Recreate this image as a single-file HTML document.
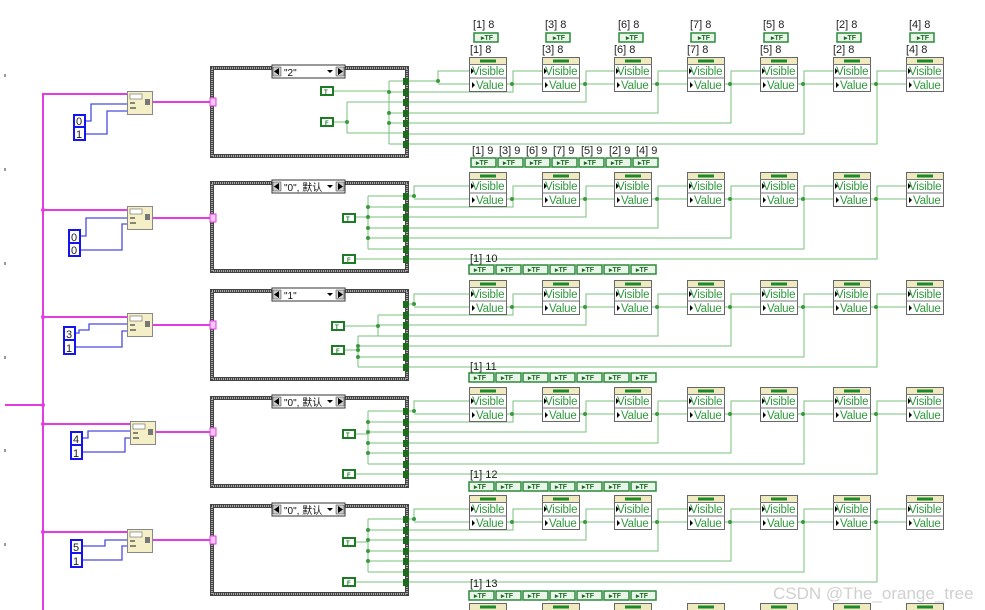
<!DOCTYPE html><html><head><meta charset="utf-8"><style>body{margin:0;background:#fff}svg{display:block}text{font-family:"Liberation Sans","Noto Sans CJK SC",sans-serif}</style></head><body>
<svg width="985" height="610" viewBox="0 0 985 610" xmlns="http://www.w3.org/2000/svg">
<defs>
<symbol id="n" overflow="visible"><rect x="0.5" y="0.5" width="37" height="34" fill="#fff" stroke="#666"/><rect x="1" y="1" width="36" height="6" fill="#efe9bf"/><rect x="11" y="2.5" width="16" height="3" fill="#1a8a2a"/><path d="M0 7.5H38M0 21H38" stroke="#777"/><path d="M2 11l3 3-3 3zM3 25l3 3-3 3z" fill="#000"/></symbol>
<symbol id="cs" overflow="visible"><rect x="2" y="2" width="195" height="88" fill="#fff" stroke="#444" stroke-width="4"/><rect x="2" y="2" width="195" height="88" fill="none" stroke="#aaa" stroke-width="2" stroke-dasharray="1 1"/><rect x="62" y="-1" width="73" height="13" fill="#fff" stroke="#333"/><path d="M63 1h8v9h-8zM126 1h8v9h-8z" fill="#ccc" stroke="#333" stroke-width=".5"/><path d="M69 2v7l-5-3.5zM128 2v7l5-3.5zM117 4h6l-3 3z" fill="#000"/></symbol>
<symbol id="tun" overflow="visible"><rect x="0" y="0" width="6" height="7" fill="#1d6b1d"/></symbol>
<symbol id="fn" overflow="visible"><rect x="0.5" y="0.5" width="25" height="23" fill="#f4efc6" stroke="#888"/><rect x="3" y="3" width="12" height="5" fill="#fff" stroke="#666" stroke-width=".6"/><rect x="18" y="8" width="5" height="6" fill="#777"/><path d="M3 12h5M3 17h6" stroke="#444" stroke-width="1.2"/></symbol>
</defs>
<g fill="#999"><rect x="4" y="74" width="2" height="3"/><rect x="4" y="168" width="2" height="3"/><rect x="4" y="262" width="2" height="3"/><rect x="4" y="356" width="2" height="3"/><rect x="4" y="449" width="2" height="3"/><rect x="4" y="543" width="2" height="3"/></g>
<g stroke="#e23ce2" stroke-width="2" fill="none"><path d="M43 93V610M43 94H127M43 210H127M43 317H127M5 405H43M43 424H130M43 532H127M152 102H212M152 218H212M152 325H212M155 432H212M152 540H212"/></g>
<g fill="#e23ce2"><circle cx="43" cy="210" r="2"/><circle cx="43" cy="317" r="2"/><circle cx="43" cy="405" r="2"/><circle cx="43" cy="424" r="2"/><circle cx="43" cy="532" r="2"/></g>
<use href="#fn" x="127" y="91"/><use href="#fn" x="127" y="206"/><use href="#fn" x="127" y="313"/><use href="#fn" x="130" y="421"/><use href="#fn" x="127" y="529"/>
<g stroke="#4a4ae0" stroke-width="1.3" fill="none"><path d="M85 121H91V104H127M85 134H107V111H127M80 236H86V218H127M80 250H122V224H127M75 333H79V330H89V324H127M75 347H122V331H127M82 438H88V431H130M82 452H125V438H130M82 546H105V540H127M82 560H122V546H127"/></g>
<g stroke="#1414f0" stroke-width="2" fill="#fff"><rect x="74" y="115" width="11" height="12"/><rect x="74" y="127" width="11" height="13"/><rect x="69" y="230" width="11" height="13"/><rect x="69" y="243" width="11" height="13"/><rect x="64" y="327" width="11" height="13"/><rect x="64" y="340" width="11" height="14"/><rect x="71" y="432" width="11" height="13"/><rect x="71" y="445" width="11" height="14"/><rect x="71" y="540" width="11" height="13"/><rect x="71" y="553" width="11" height="14"/></g>
<g font-size="11" fill="#222"><text x="76" y="125">0</text><text x="76" y="138">1</text><text x="71" y="241">0</text><text x="71" y="254">0</text><text x="66" y="338">3</text><text x="66" y="352">1</text><text x="73" y="443">4</text><text x="73" y="457">1</text><text x="73" y="551">5</text><text x="73" y="565">1</text></g>
<use href="#cs" x="210" y="66"/><use href="#cs" x="210" y="181"/><use href="#cs" x="210" y="289"/><use href="#cs" x="210" y="396"/><use href="#cs" x="210" y="504"/>
<g font-size="10" fill="#111"><text x="284" y="76">"2"</text><text x="284" y="191">"0", 默认</text><text x="284" y="299">"1"</text><text x="284" y="406">"0", 默认</text><text x="284" y="514">"0", 默认</text></g>
<g fill="#f6c6f6" stroke="#e23ce2"><rect x="210" y="98" width="6" height="8"/><rect x="210" y="214" width="6" height="8"/><rect x="210" y="321" width="6" height="8"/><rect x="210" y="428" width="6" height="8"/><rect x="210" y="536" width="6" height="8"/></g>
<g stroke="#78c27b" stroke-width="1" fill="none">
<path d="M333 91H389M389 81V144M389 81H403M389 92H403M389 113H403M389 123H403M389 144H403M333 122H347M347 102V133M347 102H403M347 133H403"/>
<path d="M355 217H368M368 196V249M368 196H403M368 207H403M368 217H403M368 228H403M368 238H403M368 249H403M355 259H403"/>
<path d="M344 326H378M378 315V336M378 315H403M378 325H403M358 336H403M344 350H358M358 336V367M358 346H403M358 357H403M358 367H403"/>
<path d="M355 434H368M368 411V464M368 411H403M368 422H403M368 432H403M368 443H403M368 453H403M368 464H403M355 474H403"/>
<path d="M355 542H368M368 519V572M368 519H403M368 530H403M368 540H403M368 551H403M368 561H403M368 572H403M355 582H403"/>
<path d="M409 81H438V71H469M438 84H469M409 92H513V71H542M409 102H586V71H614M409 113H658V71H687M409 123H731V71H760M409 134H804V71H833M409 144H877V71H906M506 84H542M579 84H614M651 84H687M724 84H760M797 84H833M870 84H906"/>
<path d="M409 196H414V186H469M414 199H469M409 207H513V186H542M409 217H586V186H614M409 228H658V186H687M409 238H731V186H760M409 249H804V186H833M409 259H877V186H906M506 199H542M579 199H614M651 199H687M724 199H760M797 199H833M870 199H906"/>
<path d="M409 304H414V294H469M414 307H469M409 315H513V294H542M409 325H586V294H614M409 336H658V294H687M409 346H731V294H760M409 357H804V294H833M409 367H877V294H906M506 307H542M579 307H614M651 307H687M724 307H760M797 307H833M870 307H906"/>
<path d="M409 411H414V401H469M414 414H469M409 422H513V401H542M409 432H586V401H614M409 443H658V401H687M409 453H731V401H760M409 464H804V401H833M409 474H877V401H906M506 414H542M579 414H614M651 414H687M724 414H760M797 414H833M870 414H906"/>
<path d="M409 519H414V509H469M414 522H469M409 530H513V509H542M409 540H586V509H614M409 551H658V509H687M409 561H731V509H760M409 572H804V509H833M409 582H877V509H906M506 522H542M579 522H614M651 522H687M724 522H760M797 522H833M870 522H906"/>
</g>
<g fill="#3a9a3e"><circle cx="389" cy="92" r="2"/><circle cx="389" cy="113" r="2"/><circle cx="389" cy="123" r="2"/><circle cx="347" cy="122" r="2"/><circle cx="438" cy="81" r="2"/>
<circle cx="368" cy="207" r="2"/><circle cx="368" cy="217" r="2"/><circle cx="368" cy="228" r="2"/><circle cx="368" cy="238" r="2"/><circle cx="414" cy="196" r="2"/>
<circle cx="378" cy="326" r="2"/><circle cx="358" cy="346" r="2"/><circle cx="358" cy="350" r="2"/><circle cx="358" cy="357" r="2"/><circle cx="414" cy="304" r="2"/>
<circle cx="368" cy="422" r="2"/><circle cx="368" cy="432" r="2"/><circle cx="368" cy="443" r="2"/><circle cx="368" cy="453" r="2"/><circle cx="414" cy="411" r="2"/>
<circle cx="368" cy="530" r="2"/><circle cx="368" cy="540" r="2"/><circle cx="368" cy="551" r="2"/><circle cx="368" cy="561" r="2"/><circle cx="414" cy="519" r="2"/>
<circle cx="512" cy="84" r="2"/><circle cx="585" cy="84" r="2"/><circle cx="657" cy="84" r="2"/><circle cx="730" cy="84" r="2"/><circle cx="803" cy="84" r="2"/><circle cx="876" cy="84" r="2"/>
<circle cx="512" cy="199" r="2"/><circle cx="585" cy="199" r="2"/><circle cx="657" cy="199" r="2"/><circle cx="730" cy="199" r="2"/><circle cx="803" cy="199" r="2"/><circle cx="876" cy="199" r="2"/>
<circle cx="512" cy="307" r="2"/><circle cx="585" cy="307" r="2"/><circle cx="657" cy="307" r="2"/><circle cx="730" cy="307" r="2"/><circle cx="803" cy="307" r="2"/><circle cx="876" cy="307" r="2"/>
<circle cx="512" cy="414" r="2"/><circle cx="585" cy="414" r="2"/><circle cx="657" cy="414" r="2"/><circle cx="730" cy="414" r="2"/><circle cx="803" cy="414" r="2"/><circle cx="876" cy="414" r="2"/>
<circle cx="512" cy="522" r="2"/><circle cx="585" cy="522" r="2"/><circle cx="657" cy="522" r="2"/><circle cx="730" cy="522" r="2"/><circle cx="803" cy="522" r="2"/><circle cx="876" cy="522" r="2"/></g>
<g fill="#fff" stroke="#1d7a25" stroke-width="2"><rect x="321" y="87" width="12" height="8"/><rect x="321" y="118" width="12" height="8"/><rect x="343" y="214" width="12" height="8"/><rect x="343" y="255" width="12" height="8"/><rect x="332" y="322" width="12" height="8"/><rect x="332" y="346" width="12" height="8"/><rect x="343" y="430" width="12" height="8"/><rect x="343" y="470" width="12" height="8"/><rect x="343" y="538" width="12" height="8"/><rect x="343" y="578" width="12" height="8"/></g>
<g font-size="6" font-weight="bold" fill="#1d7a25"><text x="324" y="94">T</text><text x="325" y="125">F</text><text x="346" y="221">T</text><text x="347" y="262">F</text><text x="335" y="329">T</text><text x="336" y="353">F</text><text x="346" y="437">T</text><text x="347" y="477">F</text><text x="346" y="545">T</text><text x="347" y="585">F</text></g>
<g><use href="#tun" x="403" y="78"/><use href="#tun" x="403" y="89"/><use href="#tun" x="403" y="99"/><use href="#tun" x="403" y="110"/><use href="#tun" x="403" y="120"/><use href="#tun" x="403" y="131"/><use href="#tun" x="403" y="141"/>
<use href="#tun" x="403" y="193"/><use href="#tun" x="403" y="204"/><use href="#tun" x="403" y="214"/><use href="#tun" x="403" y="225"/><use href="#tun" x="403" y="235"/><use href="#tun" x="403" y="246"/><use href="#tun" x="403" y="256"/>
<use href="#tun" x="403" y="301"/><use href="#tun" x="403" y="312"/><use href="#tun" x="403" y="322"/><use href="#tun" x="403" y="333"/><use href="#tun" x="403" y="343"/><use href="#tun" x="403" y="354"/><use href="#tun" x="403" y="364"/>
<use href="#tun" x="403" y="408"/><use href="#tun" x="403" y="419"/><use href="#tun" x="403" y="429"/><use href="#tun" x="403" y="440"/><use href="#tun" x="403" y="450"/><use href="#tun" x="403" y="461"/><use href="#tun" x="403" y="471"/>
<use href="#tun" x="403" y="516"/><use href="#tun" x="403" y="527"/><use href="#tun" x="403" y="537"/><use href="#tun" x="403" y="548"/><use href="#tun" x="403" y="558"/><use href="#tun" x="403" y="569"/><use href="#tun" x="403" y="579"/></g>
<g>
<use href="#n" x="469" y="57"/><use href="#n" x="542" y="57"/><use href="#n" x="614" y="57"/><use href="#n" x="687" y="57"/><use href="#n" x="760" y="57"/><use href="#n" x="833" y="57"/><use href="#n" x="906" y="57"/>
<use href="#n" x="469" y="172"/><use href="#n" x="542" y="172"/><use href="#n" x="614" y="172"/><use href="#n" x="687" y="172"/><use href="#n" x="760" y="172"/><use href="#n" x="833" y="172"/><use href="#n" x="906" y="172"/>
<use href="#n" x="469" y="280"/><use href="#n" x="542" y="280"/><use href="#n" x="614" y="280"/><use href="#n" x="687" y="280"/><use href="#n" x="760" y="280"/><use href="#n" x="833" y="280"/><use href="#n" x="906" y="280"/>
<use href="#n" x="469" y="387"/><use href="#n" x="542" y="387"/><use href="#n" x="614" y="387"/><use href="#n" x="687" y="387"/><use href="#n" x="760" y="387"/><use href="#n" x="833" y="387"/><use href="#n" x="906" y="387"/>
<use href="#n" x="469" y="495"/><use href="#n" x="542" y="495"/><use href="#n" x="614" y="495"/><use href="#n" x="687" y="495"/><use href="#n" x="760" y="495"/><use href="#n" x="833" y="495"/><use href="#n" x="906" y="495"/>
<use href="#n" x="469" y="603"/><use href="#n" x="542" y="603"/><use href="#n" x="614" y="603"/><use href="#n" x="687" y="603"/><use href="#n" x="760" y="603"/><use href="#n" x="833" y="603"/><use href="#n" x="906" y="603"/></g>
<g font-size="11.5" fill="#2f9a3c" letter-spacing="-0.2">
<text x="472" y="75">Visible</text><text x="545" y="75">Visible</text><text x="617" y="75">Visible</text><text x="690" y="75">Visible</text><text x="763" y="75">Visible</text><text x="836" y="75">Visible</text><text x="909" y="75">Visible</text>
<text x="476" y="89">Value</text><text x="549" y="89">Value</text><text x="621" y="89">Value</text><text x="694" y="89">Value</text><text x="767" y="89">Value</text><text x="840" y="89">Value</text><text x="913" y="89">Value</text>
<text x="472" y="190">Visible</text><text x="545" y="190">Visible</text><text x="617" y="190">Visible</text><text x="690" y="190">Visible</text><text x="763" y="190">Visible</text><text x="836" y="190">Visible</text><text x="909" y="190">Visible</text>
<text x="476" y="204">Value</text><text x="549" y="204">Value</text><text x="621" y="204">Value</text><text x="694" y="204">Value</text><text x="767" y="204">Value</text><text x="840" y="204">Value</text><text x="913" y="204">Value</text>
<text x="472" y="298">Visible</text><text x="545" y="298">Visible</text><text x="617" y="298">Visible</text><text x="690" y="298">Visible</text><text x="763" y="298">Visible</text><text x="836" y="298">Visible</text><text x="909" y="298">Visible</text>
<text x="476" y="312">Value</text><text x="549" y="312">Value</text><text x="621" y="312">Value</text><text x="694" y="312">Value</text><text x="767" y="312">Value</text><text x="840" y="312">Value</text><text x="913" y="312">Value</text>
<text x="472" y="405">Visible</text><text x="545" y="405">Visible</text><text x="617" y="405">Visible</text><text x="690" y="405">Visible</text><text x="763" y="405">Visible</text><text x="836" y="405">Visible</text><text x="909" y="405">Visible</text>
<text x="476" y="419">Value</text><text x="549" y="419">Value</text><text x="621" y="419">Value</text><text x="694" y="419">Value</text><text x="767" y="419">Value</text><text x="840" y="419">Value</text><text x="913" y="419">Value</text>
<text x="472" y="513">Visible</text><text x="545" y="513">Visible</text><text x="617" y="513">Visible</text><text x="690" y="513">Visible</text><text x="763" y="513">Visible</text><text x="836" y="513">Visible</text><text x="909" y="513">Visible</text>
<text x="476" y="527">Value</text><text x="549" y="527">Value</text><text x="621" y="527">Value</text><text x="694" y="527">Value</text><text x="767" y="527">Value</text><text x="840" y="527">Value</text><text x="913" y="527">Value</text></g>
<g font-size="11" fill="#222">
<text x="473" y="28">[1] 8</text><text x="545" y="28">[3] 8</text><text x="618" y="28">[6] 8</text><text x="690" y="28">[7] 8</text><text x="763" y="28">[5] 8</text><text x="836" y="28">[2] 8</text><text x="909" y="28">[4] 8</text>
<text x="470" y="53">[1] 8</text><text x="542" y="53">[3] 8</text><text x="614" y="53">[6] 8</text><text x="687" y="53">[7] 8</text><text x="760" y="53">[5] 8</text><text x="833" y="53">[2] 8</text><text x="906" y="53">[4] 8</text>
<text x="472" y="154">[1] 9</text><text x="499" y="154">[3] 9</text><text x="526" y="154">[6] 9</text><text x="553" y="154">[7] 9</text><text x="581" y="154">[5] 9</text><text x="609" y="154">[2] 9</text><text x="636" y="154">[4] 9</text>
<text x="470" y="262">[1] 10</text><text x="470" y="370">[1] 11</text><text x="470" y="478">[1] 12</text><text x="470" y="587">[1] 13</text></g>
<g fill="#e8f5e8" stroke="#2a8a3a" stroke-width="1.5">
<rect x="474" y="33" width="24" height="9"/><rect x="546" y="33" width="24" height="9"/><rect x="619" y="33" width="24" height="9"/><rect x="691" y="33" width="24" height="9"/><rect x="764" y="33" width="24" height="9"/><rect x="837" y="33" width="24" height="9"/><rect x="910" y="33" width="24" height="9"/>
<rect x="471" y="158" width="25" height="9"/><rect x="498" y="158" width="25" height="9"/><rect x="525" y="158" width="25" height="9"/><rect x="552" y="158" width="25" height="9"/><rect x="579" y="158" width="25" height="9"/><rect x="606" y="158" width="25" height="9"/><rect x="633" y="158" width="25" height="9"/>
<rect x="469" y="265" width="25" height="9"/><rect x="496" y="265" width="25" height="9"/><rect x="523" y="265" width="25" height="9"/><rect x="550" y="265" width="25" height="9"/><rect x="577" y="265" width="25" height="9"/><rect x="604" y="265" width="25" height="9"/><rect x="631" y="265" width="25" height="9"/>
<rect x="469" y="373" width="25" height="9"/><rect x="496" y="373" width="25" height="9"/><rect x="523" y="373" width="25" height="9"/><rect x="550" y="373" width="25" height="9"/><rect x="577" y="373" width="25" height="9"/><rect x="604" y="373" width="25" height="9"/><rect x="631" y="373" width="25" height="9"/>
<rect x="469" y="482" width="25" height="9"/><rect x="496" y="482" width="25" height="9"/><rect x="523" y="482" width="25" height="9"/><rect x="550" y="482" width="25" height="9"/><rect x="577" y="482" width="25" height="9"/><rect x="604" y="482" width="25" height="9"/><rect x="631" y="482" width="25" height="9"/>
<rect x="469" y="591" width="25" height="9"/><rect x="496" y="591" width="25" height="9"/><rect x="523" y="591" width="25" height="9"/><rect x="550" y="591" width="25" height="9"/><rect x="577" y="591" width="25" height="9"/><rect x="604" y="591" width="25" height="9"/><rect x="631" y="591" width="25" height="9"/></g>
<g font-size="7" font-weight="bold" fill="#1d6b25">
<text x="481" y="40">▸TF</text><text x="553" y="40">▸TF</text><text x="626" y="40">▸TF</text><text x="698" y="40">▸TF</text><text x="771" y="40">▸TF</text><text x="844" y="40">▸TF</text><text x="917" y="40">▸TF</text>
<text x="476" y="165">▸TF</text><text x="503" y="165">▸TF</text><text x="530" y="165">▸TF</text><text x="557" y="165">▸TF</text><text x="584" y="165">▸TF</text><text x="611" y="165">▸TF</text><text x="638" y="165">▸TF</text>
<text x="474" y="272">▸TF</text><text x="501" y="272">▸TF</text><text x="528" y="272">▸TF</text><text x="555" y="272">▸TF</text><text x="582" y="272">▸TF</text><text x="609" y="272">▸TF</text><text x="636" y="272">▸TF</text>
<text x="474" y="380">▸TF</text><text x="501" y="380">▸TF</text><text x="528" y="380">▸TF</text><text x="555" y="380">▸TF</text><text x="582" y="380">▸TF</text><text x="609" y="380">▸TF</text><text x="636" y="380">▸TF</text>
<text x="474" y="489">▸TF</text><text x="501" y="489">▸TF</text><text x="528" y="489">▸TF</text><text x="555" y="489">▸TF</text><text x="582" y="489">▸TF</text><text x="609" y="489">▸TF</text><text x="636" y="489">▸TF</text>
<text x="474" y="598">▸TF</text><text x="501" y="598">▸TF</text><text x="528" y="598">▸TF</text><text x="555" y="598">▸TF</text><text x="582" y="598">▸TF</text><text x="609" y="598">▸TF</text><text x="636" y="598">▸TF</text></g>
<text x="773" y="599" font-size="17" fill="#c8c8c8" fill-opacity="0.85">CSDN @The_orange_tree</text>
</svg>
</body></html>
